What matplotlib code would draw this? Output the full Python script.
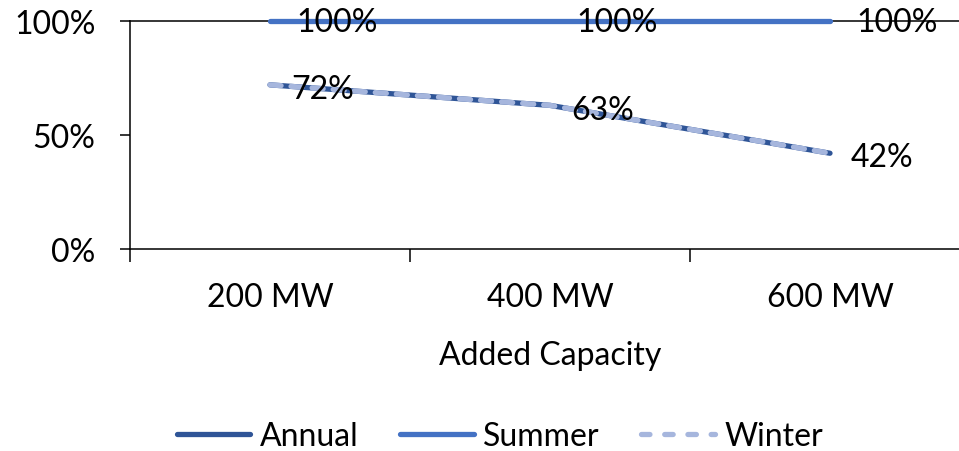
import matplotlib
matplotlib.use("Agg")
import matplotlib.pyplot as plt
from matplotlib.ticker import FixedLocator, PercentFormatter

plt.rcParams['font.family'] = ['Lato', 'DejaVu Sans']

categories = ["200 MW", "400 MW", "600 MW"]
annual = [72, 63, 42]
summer = [100, 100, 100]
winter = [72, 63, 42]

fig = plt.figure(figsize=(9.59, 4.52), dpi=100)
ax = fig.add_axes([130 / 959, 1 - 250 / 452, 840 / 959, 228 / 452])

x = [i + 0.5 for i in range(len(categories))]

c_annual = "#2F5597"
c_summer = "#4472C4"
c_winter = "#A6B6DD"

lw = 3.8
ax.plot(x, annual, color=c_annual, lw=lw, solid_capstyle="round", label="Annual",
        zorder=3, clip_on=False)
ax.plot(x, summer, color=c_summer, lw=lw, solid_capstyle="round", label="Summer",
        zorder=3, clip_on=False)
ax.plot(x, winter, color=c_winter, lw=lw, dashes=(2.1, 1.9), dash_capstyle="round",
        label="Winter", zorder=4, clip_on=False)

fs = 23
for xi, v in zip(x, summer):
    ax.annotate(f"{v}%", (xi, v), xytext=(19, -1), textcoords="offset points",
                va="center", ha="left", fontsize=fs, zorder=5)
for xi, v in zip(x, annual):
    ax.annotate(f"{v}%", (xi, v), xytext=(15, -3), textcoords="offset points",
                va="center", ha="left", fontsize=fs, zorder=5)

ax.set_xlim(0, 3)
ax.set_ylim(0, 100)
ax.yaxis.set_major_locator(FixedLocator([0, 50, 100]))
ax.yaxis.set_major_formatter(PercentFormatter(decimals=0))
ax.set_xticks(x)
ax.set_xticklabels(categories)
ax.xaxis.set_minor_locator(FixedLocator([0, 1, 2, 3]))
ax.tick_params(axis="x", which="major", length=0, pad=24, labelsize=fs)
ax.tick_params(axis="x", which="minor", length=9, width=1.1, direction="out")
ax.tick_params(axis="y", which="major", length=7, width=1.1, direction="out", pad=18,
               labelsize=fs)

for side in ("left", "bottom", "top"):
    ax.spines[side].set_linewidth(1.1)
    ax.spines[side].set_color("black")
ax.spines["right"].set_visible(False)
ax.spines["top"].set_zorder(2)

ax.set_xlabel("Added Capacity", fontsize=fs, labelpad=20)

leg = fig.legend(loc="center", bbox_to_anchor=(500 / 959, 1 - 437 / 452), ncol=3,
                 frameon=False, fontsize=fs, handlelength=2.3, handletextpad=0.3,
                 columnspacing=1.3)
leg.get_lines()[2].set_dashes((1.6, 2.8))

fig.savefig("out.png", dpi=100)
